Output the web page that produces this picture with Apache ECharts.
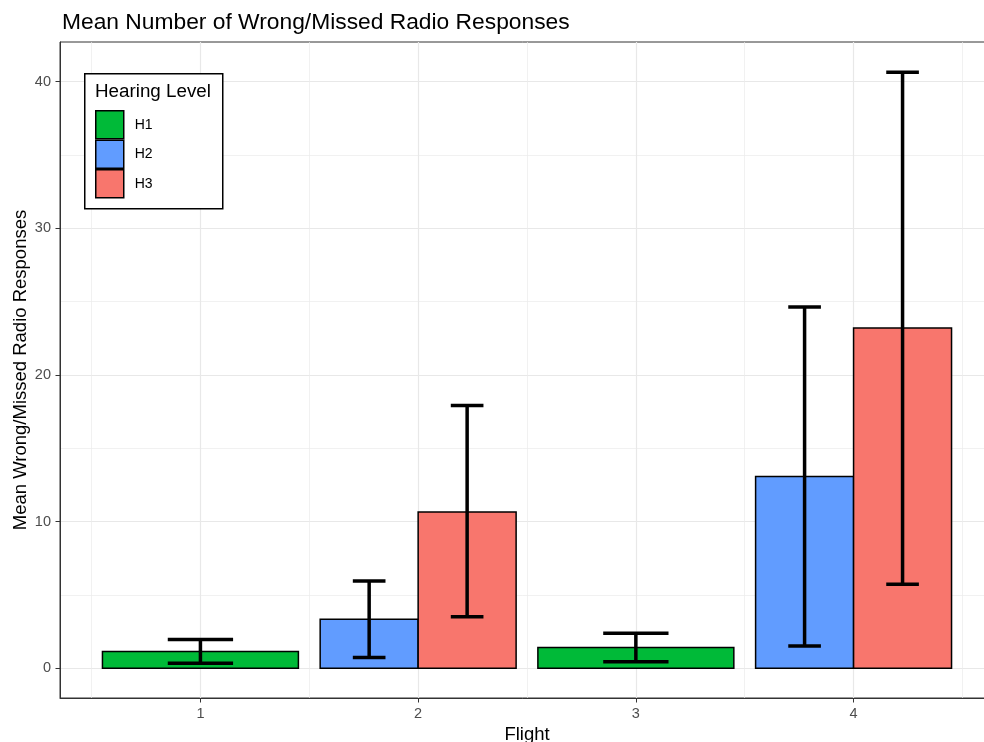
<!DOCTYPE html>
<html>
<head>
<meta charset="utf-8">
<script src="https://cdn.jsdelivr.net/npm/echarts@6/dist/echarts.min.js"></script>
<style>
html,body{margin:0;padding:0;background:#fff;}
#chart{width:984px;height:742px;}
</style>
</head>
<body>
<div id="chart"></div>
<script>
// ---- data ----
const flights = [1, 2, 3, 4];
const flightLabels = ['1', '2', '3', '4'];
const groups = ['H1', 'H2', 'H3'];
const groupColors = ['#00BA38', '#619CFF', '#F8766D'];
const meanH1 = [1.13, null, 1.41, null];
const meanH2 = [null, 3.34, null, 13.08];
const meanH3 = [null, 10.66, null, 23.21];
const lowH1 = [0.34, null, 0.43, null];
const lowH2 = [null, 0.73, null, 1.52];
const lowH3 = [null, 3.50, null, 5.72];
const highH1 = [1.95, null, 2.38, null];
const highH2 = [null, 5.95, null, 24.64];
const highH3 = [null, 17.92, null, 40.65];
const yMajorTicks = [0, 10, 20, 30, 40];
const yMinorTicks = [5, 15, 25, 35];
const xMinorTicks = [0.5, 1.5, 2.5, 3.5, 4.5];

const means = [meanH1, meanH2, meanH3];
const lows = [lowH1, lowH2, lowH3];
const highs = [highH1, highH2, highH3];

// dodge: count groups present per flight, and slot of each group
const nPresent = flights.map((f, i) => means.filter(m => m[i] != null).length);
function slotOf(g, i) {
  let k = 0;
  for (let j = 0; j < g; j++) if (means[j][i] != null) k++;
  return k;
}

const BAR_W = 0.9, ERR_W = 0.3;

function renderItem(params, api) {
  const x = api.value(0), v = api.value(1), lo = api.value(2), hi = api.value(3);
  const n = api.value(4), k = api.value(5);
  const w = BAR_W / n;
  const left = x - BAR_W / 2 + k * w;
  const p0 = api.coord([left, v]);
  const p1 = api.coord([left + w, 0]);
  const c = left + w / 2;
  const ew = ERR_W / n / 2;
  const top = api.coord([c, hi]);
  const bot = api.coord([c, lo]);
  const capL = api.coord([c - ew, 0])[0];
  const capR = api.coord([c + ew, 0])[0];
  const errStyle = {stroke: '#000', lineWidth: 3.5, fill: null};
  return {
    type: 'group',
    children: [
      {type: 'rect', shape: {x: p0[0], y: p0[1], width: p1[0] - p0[0], height: p1[1] - p0[1]},
       style: {fill: api.visual('color'), stroke: '#000', lineWidth: 1.5}},
      {type: 'line', shape: {x1: top[0], y1: top[1], x2: bot[0], y2: bot[1]}, style: errStyle, z2: 10},
      {type: 'line', shape: {x1: capL, y1: top[1], x2: capR, y2: top[1]}, style: errStyle, z2: 10},
      {type: 'line', shape: {x1: capL, y1: bot[1], x2: capR, y2: bot[1]}, style: errStyle, z2: 10}
    ]
  };
}

const series = groups.map((g, gi) => ({
  name: g,
  type: 'custom',
  xAxisIndex: 0,
  yAxisIndex: 0,
  renderItem: renderItem,
  itemStyle: {color: groupColors[gi], borderColor: '#000', borderWidth: 1.5},
  encode: {x: 0, y: 1},
  data: flights.map((f, i) => means[gi][i] == null ? null :
    [f, means[gi][i], lows[gi][i], highs[gi][i], nPresent[i], slotOf(gi, i)]).filter(d => d != null),
  z: 3
}));

const tickColor = '#333333';
const labelColor = '#4D4D4D';
const FONT = '"Liberation Sans", Arial, sans-serif';

const option = {
  animation: false,
  backgroundColor: '#fff',
  title: {
    text: 'Mean Number of Wrong/Missed Radio Responses',
    left: 57, top: 6,
    textStyle: {fontSize: 22.8, fontWeight: 'normal', color: '#000', fontFamily: FONT}
  },
  grid: {
    left: 60, top: 42, width: 934, height: 656,
    containLabel: false, outerBoundsMode: 'none',
    show: true, borderColor: '#333', borderWidth: 1, backgroundColor: 'transparent'
  },
  legend: {
    orient: 'vertical', left: 95, top: 110, padding: 0,
    itemWidth: 28, itemHeight: 28, itemGap: 0,
    icon: 'rect',
    itemStyle: {borderColor: '#000', borderWidth: 1.5},
    textStyle: {fontSize: 14, color: '#000', fontFamily: FONT, padding: [0, 0, 0, 6]},
    data: groups
  },
  graphic: [
    {type: 'rect', left: 84, top: 73, shape: {width: 138, height: 135},
     style: {fill: '#fff', stroke: '#000', lineWidth: 1.5}, z: 1},
    {type: 'text', x: 95, y: 92, style: {text: 'Hearing Level', fontSize: 18.8, fill: '#000', fontFamily: FONT, verticalAlign: 'middle'}, z: 2}
  ],
  xAxis: [
    {
      type: 'value', min: 0.355, max: 4.645,
      name: 'Flight', nameLocation: 'middle', nameGap: 26,
      nameTextStyle: {fontSize: 18.5, color: '#000', fontFamily: FONT},
      axisLine: {show: true, onZero: false, lineStyle: {color: tickColor, width: 1}},
      axisTick: {show: true, length: 4.5, lineStyle: {color: tickColor}, customValues: flights},
      axisLabel: {customValues: flights, formatter: v => flightLabels[flights.indexOf(v)],
        fontSize: 14.5, color: labelColor, margin: 8, fontFamily: FONT},
      splitLine: {show: true, lineStyle: {color: '#E8E8E8', width: 1.2}}
    },
    {
      type: 'value', min: 0.355, max: 4.645, show: true,
      axisLine: {show: false}, axisLabel: {show: false},
      axisTick: {show: false, customValues: xMinorTicks},
      splitLine: {show: true, lineStyle: {color: '#EBEBEB', width: 0.7}}
    }
  ],
  yAxis: [
    {
      type: 'value', min: -2.034, max: 42.71,
      name: 'Mean Wrong/Missed Radio Responses', nameLocation: 'middle', nameGap: 30,
      nameMoveOverlap: false,
      nameTextStyle: {fontSize: 18.5, color: '#000', fontFamily: FONT},
      axisLine: {show: true, onZero: false, lineStyle: {color: tickColor, width: 1}},
      axisTick: {show: true, length: 4.5, lineStyle: {color: tickColor}, customValues: yMajorTicks},
      axisLabel: {customValues: yMajorTicks, fontSize: 14.5, color: labelColor, margin: 9, fontFamily: FONT},
      splitLine: {show: true, lineStyle: {color: '#E8E8E8', width: 1.2}}
    },
    {
      type: 'value', min: -2.034, max: 42.71, show: true,
      axisLine: {show: false}, axisLabel: {show: false},
      axisTick: {show: false, customValues: yMinorTicks},
      splitLine: {show: true, lineStyle: {color: '#EBEBEB', width: 0.7}}
    }
  ],
  series: series
};

const chart = echarts.init(document.getElementById('chart'), null, {renderer: 'canvas'});
chart.setOption(option);
</script>
</body>
</html>
